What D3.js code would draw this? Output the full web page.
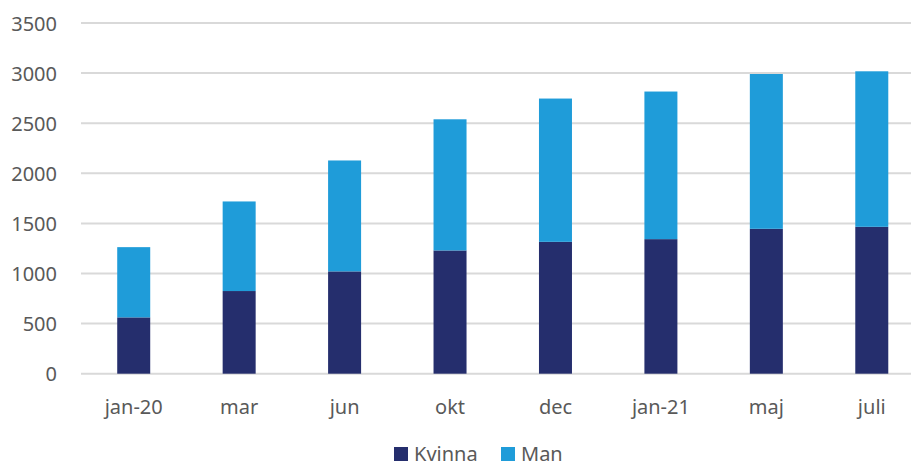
<!DOCTYPE html>
<html lang="sv">
<head>
    <meta charset="UTF-8">
    <title>Kvinna / Man</title>
    <script src="https://d3js.org/d3.v7.min.js"></script>
    <style>
        body { margin: 0; background: #fff; font-family: "Source Sans Pro", "Noto Sans", Arial, sans-serif; }
        svg text { fill: #595959; }
    </style>
</head>
<body>
    <svg id="vis"></svg>
    <script>
        const categories = ["jan-20", "mar", "jun", "okt", "dec", "jan-21", "maj", "juli"];
        const kvinna = [562, 825, 1021, 1230, 1316, 1343, 1446, 1466];
        const man = [701, 894, 1107, 1309, 1430, 1473, 1545, 1552];
        const series = ["Kvinna", "Man"];
        const colors = ["#252e6d", "#1f9cd9"];
        const yTicks = [0, 500, 1000, 1500, 2000, 2500, 3000, 3500];

        const width = 911, height = 468;
        const svg = d3.select("#vis").attr("width", width).attr("height", height);

        const x = d3.scaleBand().domain(categories).range([81, 924.5]).paddingInner(0.687).paddingOuter(0.3435);
        const y = d3.scaleLinear().domain([0, 3500]).range([373.7, 23]);

        // gridlines
        svg.append("g").selectAll("line")
            .data(yTicks)
            .join("line")
            .attr("x1", 81).attr("x2", width)
            .attr("y1", d => y(d)).attr("y2", d => y(d))
            .attr("stroke", "#d9d9d9").attr("stroke-width", 2);

        // y labels
        svg.append("g").selectAll("text")
            .data(yTicks)
            .join("text")
            .attr("x", 57).attr("y", d => y(d))
            .attr("text-anchor", "end").attr("dominant-baseline", "central")
            .attr("font-size", 20)
            .text(d => d);

        const rows = categories.map((c, i) => ({ cat: c, Kvinna: kvinna[i], Man: man[i] }));
        const stacked = d3.stack().keys(series)(rows);

        svg.append("g").selectAll("g")
            .data(stacked)
            .join("g")
            .attr("fill", (d, i) => colors[i])
            .selectAll("rect")
            .data(d => d)
            .join("rect")
            .attr("x", d => x(d.data.cat))
            .attr("width", x.bandwidth())
            .attr("y", d => y(d[1]))
            .attr("height", d => y(d[0]) - y(d[1]));

        // x labels
        svg.append("g").selectAll("text")
            .data(categories)
            .join("text")
            .attr("x", d => x(d) + x.bandwidth() / 2)
            .attr("y", 406)
            .attr("text-anchor", "middle").attr("dominant-baseline", "central")
            .attr("font-size", 20)
            .text(d => d);

        // legend
        const legendX = [394, 501];
        const legend = svg.append("g").selectAll("g")
            .data(series)
            .join("g")
            .attr("transform", (d, i) => `translate(${legendX[i]},453)`);
        legend.append("rect")
            .attr("x", 0).attr("y", -6).attr("width", 14).attr("height", 14)
            .attr("fill", (d, i) => colors[i]);
        legend.append("text")
            .attr("x", 20).attr("y", 0)
            .attr("dominant-baseline", "central")
            .attr("font-size", 20)
            .text(d => d);
    </script>
</body>
</html>
